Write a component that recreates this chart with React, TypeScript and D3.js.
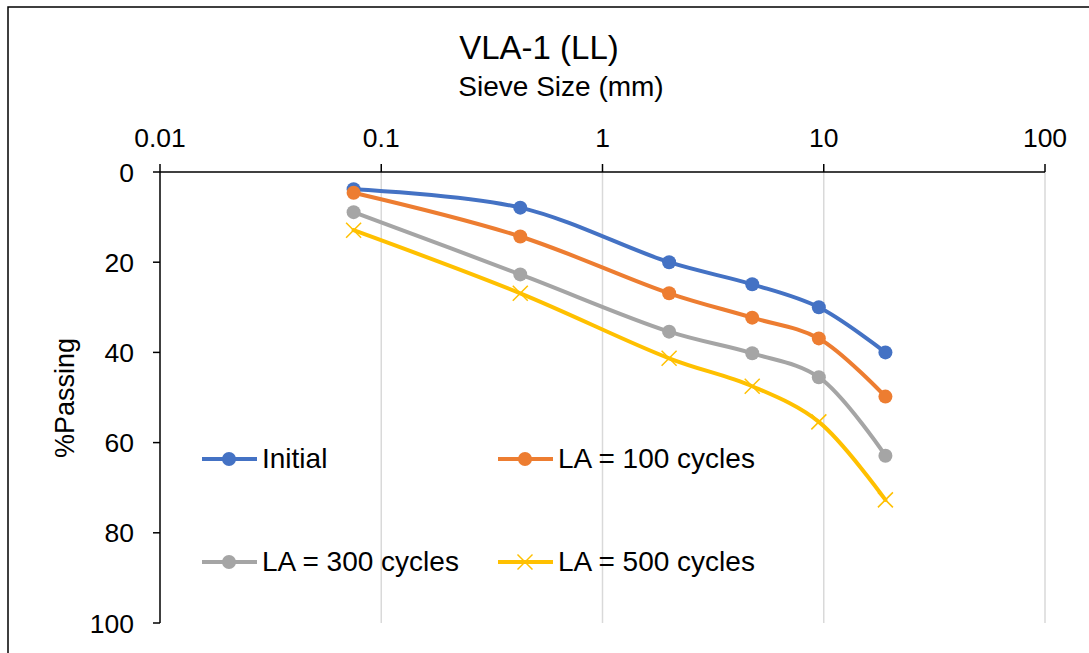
import React from "react";
import * as d3 from "d3";

const sieveSizes = [0.075, 0.425, 2, 4.75, 9.5, 19];
const initial = [3.8, 7.9, 20.0, 24.9, 30.0, 40.0];
const la100 = [4.6, 14.3, 26.9, 32.3, 36.9, 49.8];
const la300 = [8.9, 22.7, 35.4, 40.2, 45.5, 62.9];
const la500 = [12.9, 26.9, 41.3, 47.5, 55.4, 72.7];
const xTicks = [0.01, 0.1, 1, 10, 100];
const xTickLabels = ["0.01", "0.1", "1", "10", "100"];
const yTicks = [0, 20, 40, 60, 80, 100];

const seriesNames = ["Initial", "LA = 100 cycles", "LA = 300 cycles", "LA = 500 cycles"];
const seriesValues = [initial, la100, la300, la500];
const seriesColors = ["#4472C4", "#ED7D31", "#A5A5A5", "#FFC000"];
const seriesMarkers = ["circle", "circle", "circle", "cross"];

const FONT = "'Liberation Sans', Arial, sans-serif";

function Marker({ type, x, y, color }: { type: string; x: number; y: number; color: string }) {
  if (type === "cross") {
    const s = 7.5;
    return (
      <g stroke={color} strokeWidth={1.5}>
        <line x1={x - s} y1={y - s} x2={x + s} y2={y + s} />
        <line x1={x - s} y1={y + s} x2={x + s} y2={y - s} />
      </g>
    );
  }
  return <circle cx={x} cy={y} r={7} fill={color} />;
}

export default function App() {
  const W = 1089;
  const H = 653;
  const x = d3.scaleLog().domain([0.01, 100]).range([160, 1045]);
  const y = d3.scaleLinear().domain([0, 100]).range([172, 623]);
  const line = d3
    .line<[number, number]>()
    .x((d) => x(d[0]))
    .y((d) => y(d[1]))
    .curve(d3.curveCatmullRom.alpha(0.5));

  const legendItems = [
    { lx: 202, ly: 459 },
    { lx: 498, ly: 459 },
    { lx: 202, ly: 562 },
    { lx: 498, ly: 562 },
  ];

  return (
    <div style={{ position: "absolute", left: 0, top: 0 }}>
      <svg width={W} height={H} style={{ display: "block", fontFamily: FONT }}>
        <rect x={0} y={0} width={W} height={H} fill="#fff" />
        <rect x={8} y={7} width={W + 20} height={H + 20} fill="#fff" stroke="#000" strokeWidth={1.5} />
        <text x={539} y={59} textAnchor="middle" fontSize={33} fill="#000">VLA-1 (LL)</text>
        <text x={561} y={96} textAnchor="middle" fontSize={28} fill="#000">Sieve Size (mm)</text>

        {xTicks.slice(1).map((t) => (
          <line key={"g" + t} x1={x(t)} x2={x(t)} y1={y(0)} y2={y(100)} stroke="#d9d9d9" strokeWidth={1.5} />
        ))}

        <line x1={x(0.01)} x2={x(100)} y1={y(0)} y2={y(0)} stroke="#000" strokeWidth={1.5} />
        {xTicks.map((t, i) => (
          <g key={"xt" + t}>
            <line x1={x(t)} x2={x(t)} y1={y(0) - 8} y2={y(0)} stroke="#000" strokeWidth={1.5} />
            <text x={x(t)} y={147} textAnchor="middle" fontSize={26.5} fill="#000">{xTickLabels[i]}</text>
          </g>
        ))}

        <line x1={x(0.01)} x2={x(0.01)} y1={y(0)} y2={y(100)} stroke="#000" strokeWidth={1.5} />
        {yTicks.map((t) => (
          <g key={"yt" + t}>
            <line x1={x(0.01) - 7} x2={x(0.01)} y1={y(t)} y2={y(t)} stroke="#000" strokeWidth={1.5} />
            <text x={134} y={y(t) + 9.5} textAnchor="end" fontSize={26.5} fill="#000">{t}</text>
          </g>
        ))}

        <text transform={`translate(74,398) rotate(-90)`} textAnchor="middle" fontSize={27} fill="#000">%Passing</text>

        {seriesValues.map((vals, si) => {
          const pts: [number, number][] = sieveSizes.map((s, i) => [s, vals[i]]);
          return (
            <g key={"s" + si}>
              <path d={line(pts) || ""} fill="none" stroke={seriesColors[si]} strokeWidth={4} strokeLinecap="round" />
              {pts.map((p, i) => (
                <Marker key={i} type={seriesMarkers[si]} x={x(p[0])} y={y(p[1])} color={seriesColors[si]} />
              ))}
            </g>
          );
        })}

        {seriesNames.map((name, si) => {
          const { lx, ly } = legendItems[si];
          return (
            <g key={"l" + si}>
              <line x1={lx} x2={lx + 55} y1={ly} y2={ly} stroke={seriesColors[si]} strokeWidth={4} />
              <Marker type={seriesMarkers[si]} x={lx + 27} y={ly} color={seriesColors[si]} />
              <text x={lx + 60} y={ly + 9} fontSize={28} fill="#000">{name}</text>
            </g>
          );
        })}
      </svg>
    </div>
  );
}
